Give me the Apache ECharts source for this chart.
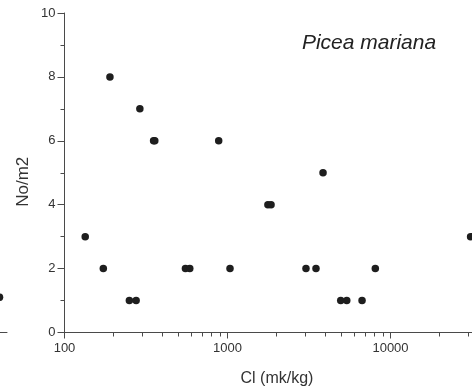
<!DOCTYPE html>
<html>
<head>
<meta charset="utf-8">
<script src="https://cdn.jsdelivr.net/npm/echarts@6/dist/echarts.min.js"></script>
<style>
  html, body { margin: 0; padding: 0; background: #fff; }
  #main { width: 472px; height: 390px; }
</style>
</head>
<body>
<div id="main"></div>
<script>
"use strict"
// Cl (mk/kg) and No/m2, one entry per dot
var clValues = [190, 290, 352, 358, 883, 3855, 1770, 1850, 134, 31000,
                173, 552, 587, 1036, 3030, 3490, 8070, 250, 275, 4950, 5390, 6690];
var noValues = [8, 7, 6, 6, 6, 5, 4, 4, 3, 3,
                2, 2, 2, 2, 2, 2, 2, 1, 1, 1, 1, 1];

// the cut-off edge of the neighbouring panel on the left
var leftPanelX = [9.3];
var leftPanelY = [1.1];

var xMajorTicks = [100, 1000, 10000, 100000];
var xMinorTicks = [200, 300, 400, 500, 600, 700, 800, 900,
                   2000, 3000, 4000, 5000, 6000, 7000, 8000, 9000,
                   20000, 30000, 40000, 50000, 60000, 70000, 80000, 90000];
var yTickLabels = [0, 2, 4, 6, 8, 10];

var points = [];
for (var i = 0; i < clValues.length; i++) {
    points.push([clValues[i], noValues[i]]);
}
var leftPoints = [];
for (var j = 0; j < leftPanelX.length; j++) {
    leftPoints.push([leftPanelX[j], leftPanelY[j]]);
}

var axisColor = '#4a4a4a';
var textColor = '#333';
var dotColor = '#1e1e1e';

var option = {
    backgroundColor: '#fff',
    animation: false,
    title: [{
        text: 'Picea mariana',
        left: 364,
        top: 28,
        textAlign: 'center',
        textStyle: {
            fontFamily: 'Liberation Sans',
            fontStyle: 'italic',
            fontWeight: 'normal',
            fontSize: 21,
            color: '#222'
        }
    }, {
        text: 'Cl (mk/kg)',
        left: 272,
        top: 366,
        textAlign: 'center',
        textStyle: {
            fontFamily: 'Liberation Sans',
            fontWeight: 'normal',
            fontSize: 16,
            color: textColor
        }
    }],
    grid: [{
        left: 64.5,
        top: 13,
        width: 489,
        bottom: 57.5,
        outerBoundsMode: 'none',
        containLabel: false
    }, {
        left: -100,
        top: 13,
        width: 107,
        bottom: 57.5,
        outerBoundsMode: 'none',
        containLabel: false
    }],
    xAxis: [{
        type: 'log',
        gridIndex: 0,
        logBase: 10,
        min: xMajorTicks[0],
        max: xMajorTicks[xMajorTicks.length - 1],
        axisLine: { onZero: false, lineStyle: { color: axisColor, width: 1 } },
        axisTick: { show: true, length: 6, lineStyle: { color: axisColor } },
        splitLine: { show: false },
        axisLabel: {
            margin: 9,
            color: textColor,
            fontFamily: 'Liberation Sans',
            fontSize: 13,
            formatter: function (v) { return String(v); }
        }
    }, {
        // minor ticks of the log axis, placed in log10 space
        type: 'value',
        gridIndex: 0,
        position: 'bottom',
        min: Math.log10(xMajorTicks[0]),
        max: Math.log10(xMajorTicks[xMajorTicks.length - 1]),
        axisLine: { show: false, onZero: false },
        axisLabel: { show: false },
        splitLine: { show: false },
        axisTick: {
            show: true,
            length: 4,
            lineStyle: { color: axisColor },
            customValues: xMinorTicks.map(function (v) { return Math.log10(v); })
        }
    }, {
        type: 'value',
        gridIndex: 1,
        min: 0,
        max: 10,
        axisLine: { onZero: false, lineStyle: { color: axisColor, width: 1 } },
        axisTick: { show: false },
        axisLabel: { show: false },
        splitLine: { show: false }
    }],
    yAxis: [{
        type: 'value',
        gridIndex: 0,
        min: yTickLabels[0],
        max: yTickLabels[yTickLabels.length - 1],
        interval: 2,
        name: 'No/m2',
        nameLocation: 'middle',
        nameRotate: 90,
        nameGap: 33,
        nameMoveOverlap: false,
        nameTextStyle: {
            fontFamily: 'Liberation Sans',
            fontSize: 17,
            color: textColor,
            padding: [0, 18, 0, 0]
        },
        axisLine: { show: true, onZero: false, lineStyle: { color: axisColor, width: 1 } },
        axisTick: { show: true, length: 7, lineStyle: { color: axisColor } },
        minorTick: { show: true, splitNumber: 2, length: 4, lineStyle: { color: axisColor } },
        splitLine: { show: false },
        axisLabel: {
            margin: 9,
            color: textColor,
            fontFamily: 'Liberation Sans',
            fontSize: 13
        }
    }, {
        type: 'value',
        gridIndex: 1,
        min: 0,
        max: 10,
        show: false
    }],
    series: [{
        type: 'scatter',
        xAxisIndex: 0,
        yAxisIndex: 0,
        data: points,
        symbol: 'circle',
        symbolSize: 7.5,
        itemStyle: { color: dotColor, opacity: 1 },
        clip: false
    }, {
        type: 'scatter',
        xAxisIndex: 2,
        yAxisIndex: 1,
        data: leftPoints,
        symbol: 'circle',
        symbolSize: 7.5,
        itemStyle: { color: dotColor, opacity: 1 },
        clip: false
    }]
};

var chart = echarts.init(document.getElementById('main'));
chart.setOption(option);
</script>
</body>
</html>
